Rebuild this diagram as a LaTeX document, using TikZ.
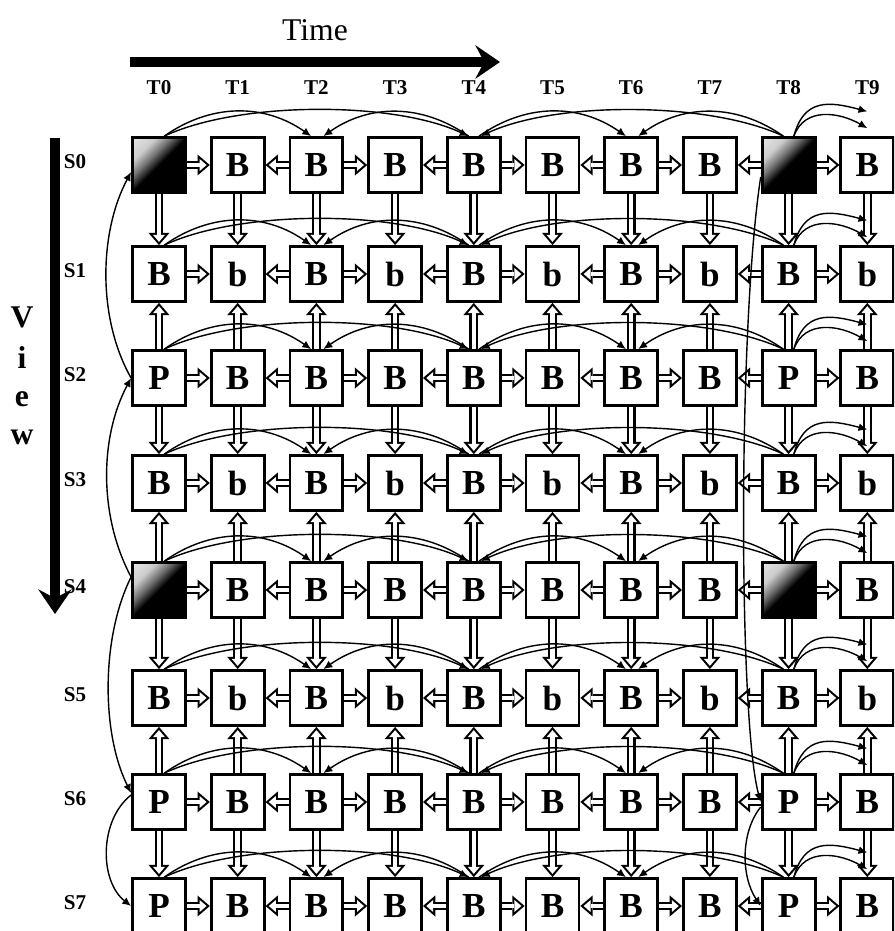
\documentclass[tikz,border=0pt]{standalone}
\usepackage{fontspec}
\setmainfont{Liberation Serif}
\usetikzlibrary{arrows.meta}

\pgfdeclareverticalshading{keyshade}{100bp}{color(0bp)=(black); color(50bp)=(black);
  color(60bp)=(black!55); color(70bp)=(black!20); color(100bp)=(white)}
\tikzset{
  frame/.style={draw, line width=1.6pt, fill=white, minimum width=1.06cm,
    minimum height=1.1cm, inner sep=0pt, font=\fontsize{20}{20}\selectfont\bfseries},
  keyframe/.style={frame, shading=keyshade, shading angle=45},
  hollow/.style={line width=5pt, -{Triangle[length=7pt, width=12pt, line width=0pt]},
    postaction={draw=white, line width=2.6pt, shorten >=1.85pt,
      -{Triangle[length=3.95pt, width=6.8pt, line width=0pt]}}},
  pred/.style={line width=0.8pt, -{Latex[length=5pt, width=4.5pt]}},
  tlabel/.style={font=\fontsize{12}{12}\selectfont\bfseries},
  bigarrow/.style={line width=5.6pt, -{Stealth[length=14pt, width=19pt, inset=5pt]}},
}

\begin{document}
\begin{tikzpicture}[x=0.02cm, y=-0.02cm]
  \useasboundingbox (0,0) rectangle (894,931);
  \clip (0,0) rectangle (894,931);

  % --- Axes ---
  \node[font=\fontsize{18}{18}\selectfont] (time) at (315,30) {Time};
  \coordinate (time-from) at (130,62);
  \coordinate (time-to) at (500,62);
  \draw[bigarrow] (time-from) -- (time-to);
  \coordinate (view-from) at (55,138);
  \coordinate (view-to) at (55,614);
  \draw[bigarrow] (view-from) -- (view-to);
  \foreach \l/\y in {V/317,i/358,e/399,w/437}
    \node[font=\fontsize{18}{18}\selectfont\bfseries] (view-\l) at (22,\y) {\l};

  % --- Frames ---
  \foreach \t in {0,...,9}
    \node[tlabel] (t\t) at (159+78.7*\t,88) {T\t};
  \def\keyI{I}
  \foreach \s/\y/\a/\c in {0/165/I/B,1/274/B/b,2/378/P/B,3/483/B/b,
                           4/590/I/B,5/698/B/b,6/802/P/B,7/906/P/B} {
    \node[tlabel] (s\s) at (75,\y-3) {S\s};
    \foreach \t in {0,...,9} {
      \ifodd\t \edef\kind{\c}\else\edef\kind{B}\fi
      \ifnum\t=0 \edef\kind{\a}\fi
      \ifnum\t=8 \edef\kind{\a}\fi
      \ifx\kind\keyI
        \node[keyframe] (f\s-\t) at (159+78.7*\t,\y) {};
      \else
        \node[frame] (f\s-\t) at (159+78.7*\t,\y) {\kind};
      \fi
    }
  }

  % --- Hollow arrows: time and view neighbours ---
  \foreach \s in {0,...,7}
    \foreach \a/\b in {0/1,2/1,2/3,4/3,4/5,6/5,6/7,8/7,8/9}
      \draw[hollow] (f\s-\a) -- (f\s-\b);
  \foreach \a/\b in {0/1,2/1,2/3,4/3,4/5,6/5,6/7}
    \foreach \t in {0,...,9}
      \draw[hollow] (f\a-\t) -- (f\b-\t);

  % --- Temporal references ---
  \foreach \s in {0,...,7} {
    \draw[pred] ([xshift=3pt]f\s-0.north) to[out=35,in=145] ([xshift=-3pt]f\s-2.north);
    \draw[pred] ([xshift=3pt]f\s-0.north) to[out=25,in=155,looseness=0.7] ([xshift=-3pt]f\s-4.north);
    \draw[pred] ([xshift=-3pt]f\s-4.north) to[out=145,in=35] ([xshift=4pt]f\s-2.north);
    \draw[pred] ([xshift=3pt]f\s-4.north) to[out=35,in=145] ([xshift=-3pt]f\s-6.north);
    \draw[pred] ([xshift=-3pt]f\s-8.north) to[out=145,in=35] ([xshift=4pt]f\s-6.north);
    \draw[pred] ([xshift=-3pt]f\s-8.north) to[out=155,in=25,looseness=0.7] ([xshift=4pt]f\s-4.north);
    \draw[pred] ([xshift=3pt]f\s-8.north) to[out=75,in=165,looseness=1.3] ([yshift=14pt]f\s-9.north);
    \draw[pred] ([xshift=3pt]f\s-8.north) to[out=70,in=150,looseness=1.1] ([yshift=4.5pt]f\s-9.north);
  }

  % --- Inter-view references ---
  \draw[pred] (f2-0.west) .. controls +(-34,-60) and +(-32,60) .. ([yshift=-0.14cm]f0-0.west);
  \draw[pred] ([yshift=0.26cm]f4-0.west) .. controls +(-32,-60) and +(-32,60) .. (f2-0.west);
  \draw[pred] ([yshift=0.26cm]f4-0.west) .. controls +(-30,60) and +(-30,-60) .. ([yshift=0.18cm]f6-0.west);
  \draw[pred] ([yshift=0.14cm]f6-0.west) .. controls +(-32,25) and +(-32,-25) .. (f7-0.west);
  \draw[pred] ([yshift=-0.24cm]f0-8.west) .. controls +(-23,150) and +(-22,-80) .. (f6-8.west);
  \draw[pred] ([yshift=-0.1cm]f6-8.west) .. controls +(-20,25) and +(-20,-30) .. (f7-8.west);
\end{tikzpicture}
\end{document}
